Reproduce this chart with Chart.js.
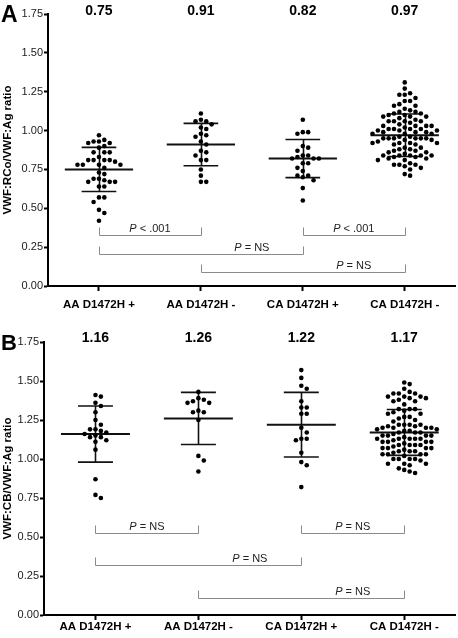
<!DOCTYPE html>
<html>
<head>
<meta charset="utf-8">
<script src="https://cdn.jsdelivr.net/npm/chart.js@4.4.0/dist/chart.umd.min.js"></script>
<style>
  html, body { margin: 0; padding: 0; background: #fff; }
  #wrap { position: relative; width: 458px; height: 638px; }
  .painel { position: absolute; left: 0; width: 458px; height: 319px; }
</style>
</head>
<body>
<div id="wrap">
  <div class="painel" style="top:0"><canvas id="graficoA" width="458" height="319"></canvas></div>
  <div class="painel" style="top:319px"><canvas id="graficoB" width="458" height="319"></canvas></div>
</div>
<script>
const grupos = ['AA D1472H +', 'AA D1472H -', 'CA D1472H +', 'CA D1472H -'];

// Painel A - VWF:RCo/VWF:Ag
const aaPosA = [0.97, 0.94, 0.93, 0.93, 0.92, 0.92, 0.90, 0.89, 0.86, 0.86, 0.86, 0.83, 0.81, 0.81, 0.81, 0.81, 0.80,
  0.78, 0.78, 0.78, 0.78, 0.76, 0.73, 0.72, 0.69, 0.69, 0.68, 0.67, 0.67, 0.67, 0.64, 0.64, 0.57, 0.57, 0.54, 0.49, 0.47, 0.42];
const aaNegA = [1.11, 1.07, 1.06, 1.06, 1.04, 1.02, 1.01, 0.98, 0.97, 0.96, 0.93, 0.91, 0.87, 0.86, 0.84, 0.81, 0.81,
  0.75, 0.71, 0.67, 0.67];
const caPosA = [1.07, 0.99, 0.99, 0.98, 0.90, 0.89, 0.87, 0.84, 0.84, 0.83, 0.82, 0.82, 0.82, 0.79, 0.79, 0.76, 0.74,
  0.71, 0.71, 0.70, 0.68, 0.63, 0.55];
const caNegA = [1.31, 1.27, 1.23, 1.23, 1.24, 1.21, 1.19, 1.19, 1.16, 1.17, 1.16, 1.13, 1.14,
  1.12, 1.11, 1.12, 1.11, 1.09, 1.09, 1.10, 1.08, 1.09, 1.10, 1.06, 1.06, 1.07, 1.05, 1.06, 1.06,
  1.03, 1.03, 1.04, 1.02, 1.03, 1.03, 1.01, 1.00, 1.01, 1.01, 1.00, 1.01, 1.00,
  0.99, 0.98, 0.98, 0.99, 0.98, 0.99, 0.95, 0.95, 0.96, 0.95, 0.94, 0.95, 0.96, 0.95, 0.94, 0.95,
  0.92, 0.92, 0.91, 0.92, 0.93, 0.92, 0.91, 0.89, 0.88, 0.89, 0.88, 0.87, 0.86, 0.87, 0.86,
  0.84, 0.84, 0.83, 0.84, 0.85, 0.84, 0.83, 0.84, 0.82, 0.81, 0.82, 0.81,
  0.78, 0.78, 0.79, 0.78, 0.77, 0.76, 0.75, 0.71, 0.72];
const mediasA = [0.75, 0.91, 0.82, 0.97];
const desviosA = [0.142, 0.136, 0.123, 0.137];
const colDeA = [0, 2, 0, 1];
const colAteA = [1, 3, 2, 3];
const colNivelA = [0.33, 0.33, 0.206, 0.09];
const colTextoA = ['< .001', '< .001', '= NS', '= NS'];

// Painel B - VWF:CB/VWF:Ag
const aaPosB = [1.41, 1.40, 1.36, 1.34, 1.30, 1.25, 1.22, 1.19, 1.19, 1.18, 1.17, 1.16, 1.15, 1.14, 1.14, 1.12, 1.11,
  1.06, 0.87, 0.77, 0.75];
const aaNegB = [1.43, 1.39, 1.38, 1.37, 1.36, 1.36, 1.31, 1.30, 1.30, 1.25, 1.02, 0.99, 0.92];
const caPosB = [1.57, 1.52, 1.47, 1.45, 1.37, 1.33, 1.33, 1.29, 1.29, 1.20, 1.17, 1.13, 1.13, 1.12, 1.04, 0.98, 0.96, 0.82];
const caNegB = [1.49, 1.48, 1.45, 1.42, 1.42, 1.43, 1.42, 1.40, 1.39, 1.40, 1.39, 1.40, 1.37, 1.37, 1.38, 1.35,
  1.32, 1.32, 1.31, 1.32, 1.29, 1.29, 1.30, 1.27, 1.27, 1.26, 1.25, 1.24,
  1.22, 1.22, 1.21, 1.22, 1.22, 1.21, 1.20, 1.19, 1.20, 1.20, 1.19, 1.20, 1.18, 1.17, 1.17, 1.18, 1.17,
  1.15, 1.15, 1.16, 1.15, 1.15, 1.13, 1.13, 1.14, 1.13, 1.13, 1.12, 1.13, 1.11, 1.11, 1.10, 1.11, 1.11,
  1.09, 1.09, 1.09, 1.08, 1.09, 1.07, 1.07, 1.06, 1.07, 1.07, 1.05, 1.05, 1.04, 1.05,
  1.03, 1.03, 1.02, 1.03, 1.03, 1.00, 1.00, 0.99, 1.00, 1.00, 0.97, 0.97, 0.96, 0.97, 0.94, 0.93, 0.92, 0.91];
const mediasB = [1.16, 1.26, 1.22, 1.17];
const desviosB = [0.18, 0.167, 0.207, 0.147];
const colDeB = [0, 2, 0, 1];
const colAteB = [1, 3, 2, 3];
const colNivelB = [0.526, 0.526, 0.32, 0.11];
const colTextoB = ['= NS', '= NS', '= NS', '= NS'];

const fonte = '"Liberation Sans", Arial, sans-serif';

// espalha os pontos lado a lado (tipo beeswarm) para não sobrepor
function espalhar(valores, centro, pxPorX, pxPorY) {
  const passo = 5.4, dist = 5.0;
  const colocados = [];
  valores.slice().sort((a, b) => b - a).forEach(v => {
    const py = v * pxPorY;
    for (let k = 0; k < 80; k++) {
      const px = (k === 0 ? 0 : (k % 2 ? 1 : -1) * Math.ceil(k / 2)) * passo;
      const bate = colocados.some(p => (p.px - px) ** 2 + (p.py - py) ** 2 < dist * dist);
      if (!bate) { colocados.push({ px, py, v }); break; }
    }
  });
  return colocados.map(p => ({ x: centro + p.px / pxPorX, y: p.v }));
}

function linha(ctx, x1, y1, x2, y2) {
  ctx.beginPath();
  ctx.moveTo(x1, y1);
  ctx.lineTo(x2, y2);
  ctx.stroke();
}

function marcas(cfg) {
  return {
    id: 'marcas',
    beforeDatasetsDraw(chart) {
      const { ctx, scales: { x, y } } = chart;
      ctx.save();
      ctx.strokeStyle = '#111';
      cfg.medias.forEach((m, i) => {
        const d = cfg.desvios[i];
        const cx = Math.round(x.getPixelForValue(i)) + 0.5;
        const ym = y.getPixelForValue(m);
        const ys = y.getPixelForValue(m + d);
        const yi = y.getPixelForValue(m - d);
        ctx.lineWidth = 2;
        linha(ctx, x.getPixelForValue(i - 0.335), ym, x.getPixelForValue(i + 0.335), ym);
        ctx.lineWidth = 1.6;
        linha(ctx, x.getPixelForValue(i - 0.17), ys, x.getPixelForValue(i + 0.17), ys);
        linha(ctx, x.getPixelForValue(i - 0.17), yi, x.getPixelForValue(i + 0.17), yi);
        linha(ctx, cx, ys, cx, yi);
      });
      ctx.restore();
    },
    afterDraw(chart) {
      const { ctx, scales: { x, y } } = chart;
      ctx.save();
      // colchetes com valor de P
      cfg.colDe.forEach((de, k) => {
        const x1 = Math.round(x.getPixelForValue(de)) + 0.5;
        const x2 = Math.round(x.getPixelForValue(cfg.colAte[k])) + 0.5;
        const yy = Math.round(y.getPixelForValue(cfg.colNivel[k])) + 0.5;
        ctx.strokeStyle = '#8a8a8a';
        ctx.lineWidth = 1;
        ctx.beginPath();
        ctx.moveTo(x1, yy - 8);
        ctx.lineTo(x1, yy);
        ctx.lineTo(x2, yy);
        ctx.lineTo(x2, yy - 8);
        ctx.stroke();

        const xt = x.getPixelForValue(cfg.colAte[k] - 0.5);
        const resto = ' ' + cfg.colTexto[k];
        ctx.fillStyle = '#222';
        ctx.textBaseline = 'alphabetic';
        ctx.textAlign = 'left';
        ctx.font = 'italic 11px ' + fonte;
        const wp = ctx.measureText('P').width;
        ctx.font = '11px ' + fonte;
        const wr = ctx.measureText(resto).width;
        const x0 = xt - (wp + wr) / 2;
        ctx.font = 'italic 11px ' + fonte;
        ctx.fillText('P', x0, yy - 4);
        ctx.font = '11px ' + fonte;
        ctx.fillText(resto, x0 + wp, yy - 4);
      });
      // médias no topo
      ctx.fillStyle = '#000';
      ctx.textAlign = 'center';
      ctx.textBaseline = 'alphabetic';
      ctx.font = 'bold 14px ' + fonte;
      cfg.medias.forEach((m, i) => {
        ctx.fillText(m.toFixed(2), x.getPixelForValue(i), cfg.yMedia);
      });
      // letra do painel
      ctx.textAlign = 'left';
      ctx.font = 'bold ' + cfg.letraTam + 'px ' + fonte;
      ctx.fillText(cfg.letra, 1, cfg.letraY);
      ctx.restore();
    }
  };
}

function criarPainel(id, cfg) {
  const ctx = document.getElementById(id).getContext('2d');
  const pontos = cfg.series.flatMap((s, i) => espalhar(s, i, 102.5, 155.5));
  return new Chart(ctx, {
    type: 'scatter',
    data: {
      datasets: [{
        data: pontos,
        pointRadius: 2.3,
        pointHoverRadius: 2.3,
        pointBackgroundColor: '#000',
        pointBorderWidth: 0
      }]
    },
    options: {
      responsive: false,
      animation: false,
      layout: { padding: { top: cfg.topo, right: cfg.direita, left: 0, bottom: 0 } },
      scales: {
        x: {
          type: 'linear',
          min: -0.5,
          max: 3.5,
          afterBuildTicks: s => { s.ticks = grupos.map((_, i) => ({ value: i })); },
          afterFit: s => { s.height = cfg.alturaX; },
          ticks: {
            callback: v => grupos[v],
            color: '#000',
            autoSkip: false,
            maxRotation: 0,
            padding: cfg.padX,
            font: { family: fonte, size: 11.5, weight: 'bold' }
          },
          grid: { drawOnChartArea: false, tickLength: 5, tickColor: '#000', tickWidth: 2 },
          border: { color: '#000', width: 2 }
        },
        y: {
          min: 0,
          max: 1.75,
          afterFit: s => { s.width = cfg.larguraY; },
          ticks: {
            stepSize: 0.25,
            callback: v => v.toFixed(2),
            color: '#1a1a1a',
            padding: 1,
            font: { family: fonte, size: 11 }
          },
          grid: { drawOnChartArea: false, tickLength: 4, tickColor: '#000', tickWidth: 2 },
          border: { color: '#000', width: 2 },
          title: {
            display: true,
            text: cfg.tituloY,
            color: '#000',
            padding: { top: 1, bottom: 0 },
            font: { family: fonte, size: 11.5, weight: 'bold' }
          }
        }
      },
      plugins: {
        legend: { display: false },
        tooltip: { enabled: false }
      }
    },
    plugins: [marcas(cfg)]
  });
}

const graficoA = criarPainel('graficoA', {
  series: [aaPosA, aaNegA, caPosA, caNegA],
  medias: mediasA, desvios: desviosA,
  colDe: colDeA, colAte: colAteA, colNivel: colNivelA, colTexto: colTextoA,
  tituloY: 'VWF:RCo/VWF:Ag ratio',
  letra: 'A', letraTam: 23, letraY: 22,
  yMedia: 15,
  topo: 14, direita: 1, larguraY: 48, alturaX: 33, padX: 7
});

const graficoB = criarPainel('graficoB', {
  series: [aaPosB, aaNegB, caPosB, caNegB],
  medias: mediasB, desvios: desviosB,
  colDe: colDeB, colAte: colAteB, colNivel: colNivelB, colTexto: colTextoB,
  tituloY: 'VWF:CB/VWF:Ag ratio',
  letra: 'B', letraTam: 22, letraY: 31,
  yMedia: 23,
  topo: 23, direita: 2, larguraY: 44, alturaX: 23, padX: 0
});
</script>
</body>
</html>
